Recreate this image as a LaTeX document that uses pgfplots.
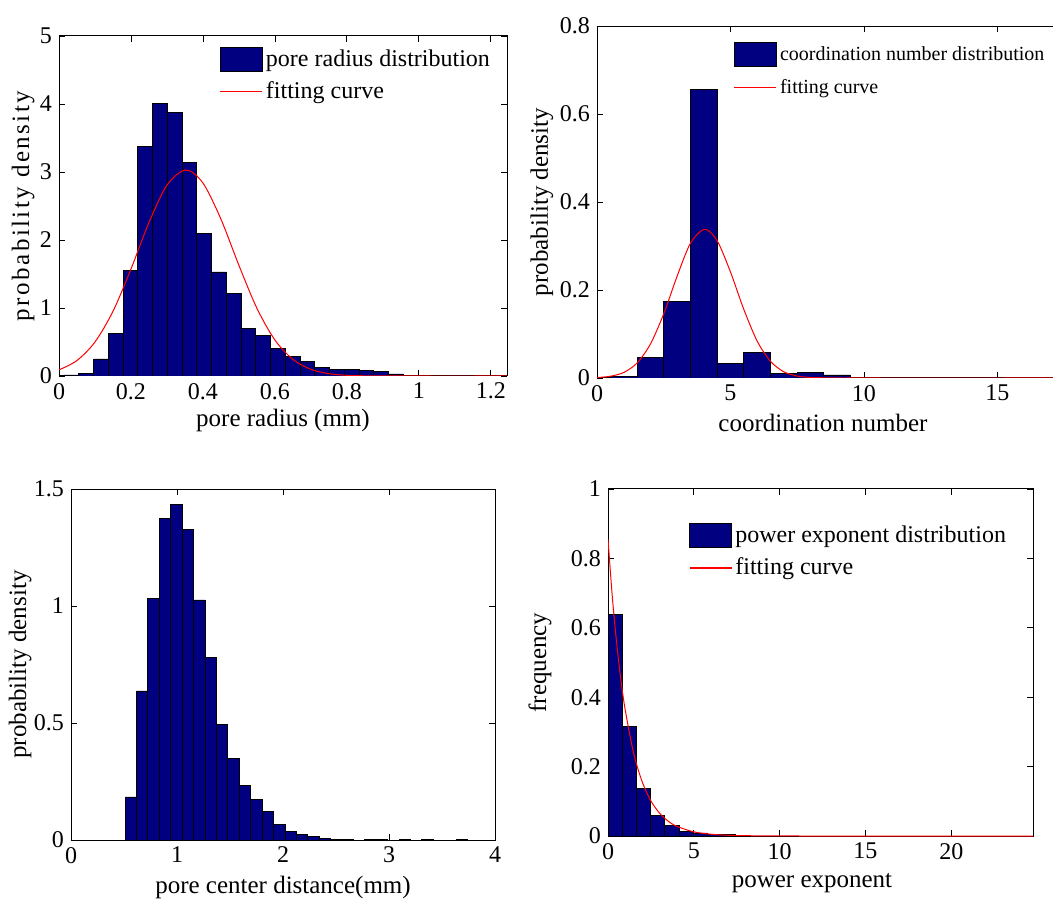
\documentclass[border=0pt]{standalone}
\usepackage{fontspec}
\setmainfont{Liberation Serif}
\usepackage{pgfplots}
\pgfplotsset{compat=1.18}

\definecolor{barblue}{RGB}{0,0,128}

\pgfplotsset{
  histo/.style={
    scale only axis,
    axis line style={black, line width=0.5pt},
    tick align=inside,
    major tick length=3pt,
    tick style={black, line width=0.4pt},
    ticklabel style={font=\fontsize{12}{14}\selectfont},
    label style={font=\fontsize{12.5}{15}\selectfont},
    /pgf/number format/assume math mode=true,
    ymin=0,
    legend cell align=left,
    legend style={draw=none, fill=none, inner sep=0pt, row sep=3pt,
      nodes={inner sep=1.5pt}},
  },
  bars/.style={ybar interval, fill=barblue, draw=black, line width=0.4pt},
  fit/.style={red, line width=0.5pt, mark=none, smooth},
  barleg/.style={legend image code/.code={
    \draw[fill=barblue, draw=black, line width=0.5pt] (0pt,-6pt) rectangle (21pt,6pt);}},
  fitleg/.style={legend image code/.code={
    \draw[red, line width=0.6pt] (0pt,0pt) -- (21pt,0pt);}},
}

\begin{document}
\begin{tikzpicture}
\path[use as bounding box] (0,0) rectangle (526.5pt,450pt);
\clip (0,0) rectangle (526.5pt,450pt);

% pore radius
\begin{axis}[histo,
  at={(29.5pt,262pt)}, anchor=south west,
  width=224pt, height=170pt,
  xmin=0, xmax=1.245, ymax=5,
  xtick={0,0.2,0.4,0.6,0.8,1,1.2}, ytick={0,1,2,3,4,5},
  xlabel={pore radius (mm)},
  ylabel={\addfontfeature{LetterSpace=10}probability density},
  xlabel style={at={(axis description cs:0.5,-0.13)}, anchor=center},
  ylabel style={at={(axis description cs:-0.08,0.5)}, anchor=center},
  legend style={at={(axis description cs:0.358,0.97)}, anchor=north west,
    font=\fontsize{12}{14}\selectfont},
]
\addplot[bars, barleg] coordinates {
  (0.014,0.015) (0.055,0.04) (0.096,0.25) (0.137,0.63) (0.178,1.55)
  (0.219,3.38) (0.260,4.01) (0.301,3.88) (0.342,3.14) (0.383,2.10)
  (0.424,1.53) (0.465,1.21) (0.506,0.70) (0.547,0.60) (0.588,0.40)
  (0.629,0.29) (0.670,0.21) (0.711,0.13) (0.752,0.10) (0.793,0.09)
  (0.834,0.08) (0.875,0.07) (0.916,0.03) (0.957,0.004) (0.998,0.002)
  (1.039,0.002) (1.080,0.001) (1.121,0.001) (1.162,0.001) (1.203,0)
};
\addlegendentry{pore radius distribution}
\addplot[fit, fitleg] coordinates {
  (0,0.090) (0.05,0.228) (0.10,0.500) (0.15,0.951) (0.20,1.573)
  (0.25,2.256) (0.30,2.806) (0.352,3.03) (0.40,2.838) (0.45,2.307)
  (0.50,1.627) (0.55,0.996) (0.60,0.529) (0.65,0.244) (0.70,0.098)
  (0.75,0.034) (0.80,0.010) (0.85,0.003) (0.90,0.001) (1.0,0) (1.245,0)
};
\addlegendentry{fitting curve}
\end{axis}

% coordination number (runs past the right page edge)
\begin{axis}[histo,
  at={(298.5pt,261pt)}, anchor=south west,
  width=232pt, height=176pt,
  xmin=0, xmax=17.385, ymax=0.8,
  xtick={0,5,10,15}, ytick={0,0.2,0.4,0.6,0.8},
  xlabel={coordination number},
  ylabel={probability density},
  xlabel style={at={(axis description cs:0.487,-0.128)}, anchor=center},
  ylabel style={at={(axis description cs:-0.119,0.5)}, anchor=center},
  legend style={at={(axis description cs:0.294,0.955)}, anchor=north west,
    font=\fontsize{10}{12}\selectfont, row sep=4.5pt},
]
\addplot[bars, barleg] coordinates {
  (0.5,0.004) (1.5,0.046) (2.5,0.174) (3.5,0.655) (4.5,0.034)
  (5.5,0.059) (6.5,0.010) (7.5,0.012) (8.5,0.007) (9.5,0.002)
  (10.5,0.001) (11.5,0.001) (12.5,0.001) (13.5,0.001) (14.5,0)
  (15.5,0) (16.5,0.001) (17.5,0)
};
\addlegendentry{coordination number distribution}
\addplot[fit, fitleg] coordinates {
  (0,0.001) (0.5,0.004) (1,0.0125) (1.5,0.034) (2,0.077) (2.5,0.146)
  (3,0.231) (3.5,0.306) (4.03,0.338) (4.5,0.312) (5,0.241) (5.5,0.156)
  (6,0.084) (6.5,0.038) (7,0.014) (7.5,0.0045) (8,0.0012) (9,0.0001)
  (10,0) (17.385,0)
};
\addlegendentry{fitting curve}
\end{axis}

% pore center distance
\begin{axis}[histo,
  at={(35.5pt,30pt)}, anchor=south west,
  width=212pt, height=175.5pt,
  xmin=0, xmax=4, ymax=1.5,
  xtick={0,1,2,3,4}, ytick={0,0.5,1,1.5},
  xlabel={pore center distance(mm)},
  ylabel={probability density},
  xlabel style={at={(axis description cs:0.5,-0.134)}, anchor=center},
  ylabel style={at={(axis description cs:-0.12,0.5)}, anchor=center},
]
\addplot[bars] coordinates {
  (0.510,0.184) (0.618,0.637) (0.725,1.033) (0.833,1.375) (0.941,1.434)
  (1.049,1.329) (1.156,1.026) (1.264,0.779) (1.372,0.494) (1.479,0.348)
  (1.587,0.235) (1.695,0.175) (1.802,0.121) (1.910,0.067) (2.018,0.036)
  (2.126,0.024) (2.233,0.016) (2.341,0.007) (2.449,0.004) (2.556,0.003)
  (2.664,0) (2.772,0.002) (2.879,0.002) (2.987,0) (3.095,0.002)
  (3.203,0) (3.310,0.002) (3.418,0) (3.526,0) (3.633,0.002) (3.741,0)
};
\end{axis}

% power exponent
\begin{axis}[histo,
  at={(304pt,32pt)}, anchor=south west,
  width=212.5pt, height=173.5pt,
  xmin=0, xmax=24.76, ymax=1,
  xtick={0,5,10,15,20}, ytick={0,0.2,0.4,0.6,0.8,1},
  xlabel={power exponent},
  ylabel={frequency},
  xlabel style={at={(axis description cs:0.48,-0.135)}, anchor=center},
  ylabel style={at={(axis description cs:-0.16,0.5)}, anchor=center},
  legend style={at={(axis description cs:0.19,0.905)}, anchor=north west,
    font=\fontsize{12}{14}\selectfont, row sep=3.5pt},
]
\addplot[bars, barleg] coordinates {
  (0.010,0.639) (0.836,0.317) (1.661,0.137) (2.487,0.060) (3.312,0.031)
  (4.138,0.0144) (4.964,0.0087) (5.789,0.005) (6.615,0.004) (7.440,0)
};
\addlegendentry{power exponent distribution}
\addplot[fit, fitleg] coordinates {
  (0,0.855) (0.25,0.690) (0.5,0.558) (0.75,0.450) (1,0.364) (1.5,0.237)
  (2,0.155) (2.5,0.101) (3,0.066) (3.5,0.043) (4,0.028) (5,0.0119)
  (6,0.0051) (7,0.0022) (8,0.0009) (10,0.0002) (12,0) (24.76,0)
};
\addlegendentry{fitting curve}
\end{axis}
\end{tikzpicture}
\end{document}
